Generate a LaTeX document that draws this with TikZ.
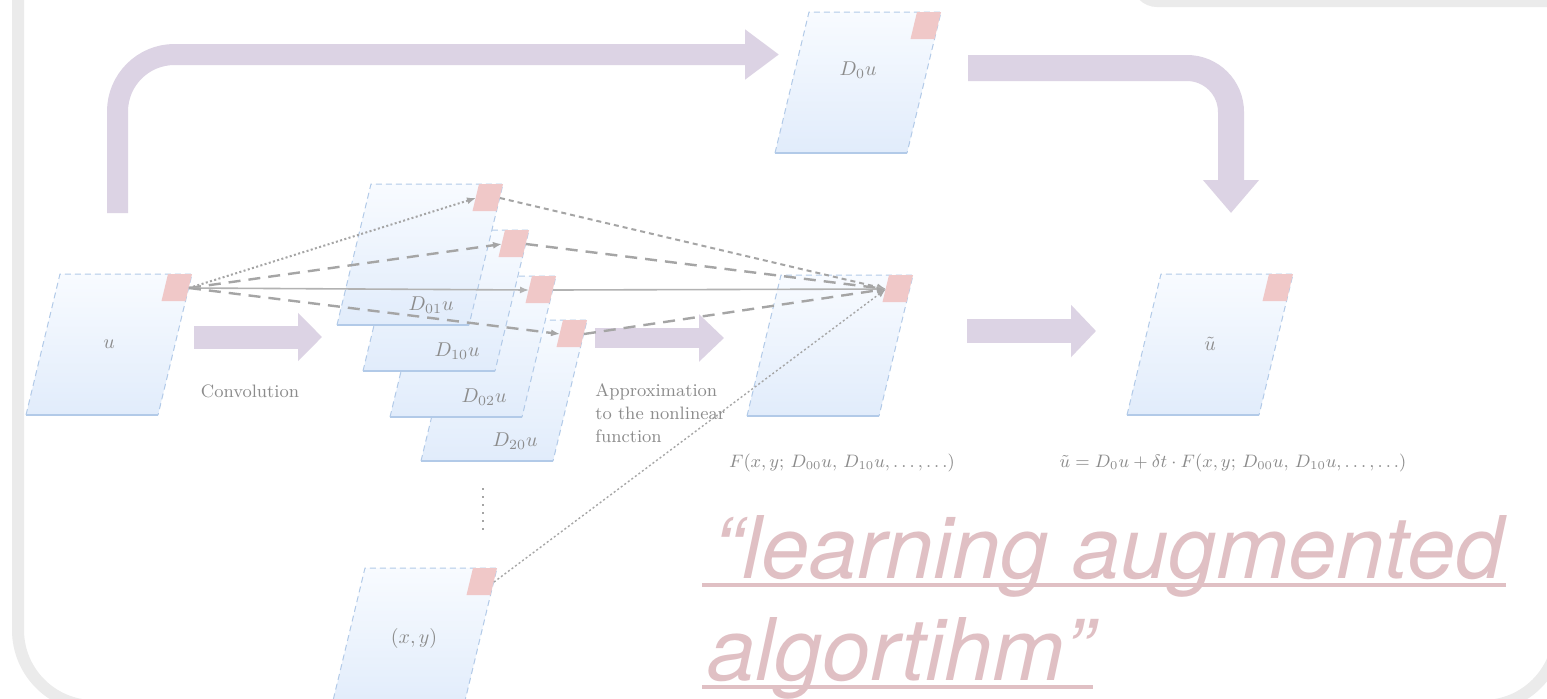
\documentclass[tikz,border=0pt]{standalone}
\usepackage{fontspec}
\usepackage{amsmath}
\newfontfamily\quotefont{TeX Gyre Heros}
\usetikzlibrary{arrows.meta,calc}

\definecolor{framegray}{RGB}{235,235,235}
\definecolor{lavender}{RGB}{220,211,228}
\definecolor{platetop}{RGB}{248,251,255}
\definecolor{platebot}{RGB}{225,236,251}
\definecolor{plateedge}{RGB}{178,202,232}
\definecolor{pinkbox}{RGB}{240,200,200}
\definecolor{softtext}{RGB}{140,140,140}
\definecolor{connline}{RGB}{165,165,165}
\definecolor{quotepink}{RGB}{224,192,196}

\tikzset{
  bigarrow/.style={draw=lavender, line width=#1},
  conn/.style={draw=connline, line width=1pt, -{Latex[length=4.5pt,width=3.5pt]}},
  dotconn/.style={conn, dash pattern=on 1pt off 1.2pt},
  shortdash/.style={conn, dash pattern=on 2.5pt off 2pt},
  longdash/.style={conn, line width=1.2pt, dash pattern=on 6pt off 4pt},
  solidconn/.style={conn, draw=connline!85, line width=0.8pt},
  lbl/.style={text=softtext, inner sep=0pt, font=\fontsize{10}{12}\selectfont},
  captext/.style={text=softtext, inner sep=0pt, font=\fontsize{9}{11.5}\selectfont},
  headline/.style={text=quotepink, inner sep=0pt, anchor=base west,
    font=\quotefont\itshape\fontsize{43.2}{50}\selectfont},
}

% slanted panel: #1 name, (#2,#3) top-right corner
\newcommand\panel[3]{%
  \begin{scope}[shift={(#2,#3)}]
    \shade[top color=platetop, bottom color=platebot]
      (-132,0) -- (0,0) -- (-34,141) -- (-166,141) -- cycle;
    \draw[plateedge, line width=0.5pt, dash pattern=on 3pt off 2pt]
      (-166,141) -- (-132,0) -- (0,0) -- (-34,141);
    \draw[plateedge, line width=1pt] (-34,141) -- (-166,141);
    \fill[pinkbox] (-24,0) -- (0,0) -- (-6.5,27) -- (-30.5,27) -- cycle;
    \coordinate (#1-in) at (-27,14);
    \coordinate (#1-out) at (-3,14);
    \coordinate (#1-c) at (-83,70);
    \coordinate (#1-t) at (-72,121);
  \end{scope}}

\begin{document}
\begin{tikzpicture}[x=0.5pt, y=-0.5pt]
  \useasboundingbox (0,0) rectangle (1547,698);
  \clip (0,0) rectangle (1547,698);
  \fill[white] (0,0) rectangle (1547,698);

  % outer frame and header tab
  \draw[framegray, line width=6pt, rounded corners=38pt] (18,-200) rectangle (1559,706);
  \fill[framegray, rounded corners=12.5pt] (1132,-60) rectangle (1620,7);

  % broad flow arrows
  \coordinate (skipA) at (117.5,213);
  \coordinate (skipC) at (779,54.5);
  \draw[bigarrow=10.5pt, rounded corners=28.5pt, -{Triangle[length=17pt,width=24pt]}]
    (skipA) |- (skipC);
  \coordinate (mergeA) at (968,68);
  \coordinate (mergeC) at (1231,213);
  \draw[bigarrow=13pt, rounded corners=22pt, -{Triangle[length=16.5pt,width=27pt]}]
    (mergeA) -| (mergeC);
  \coordinate (convA) at (194,337);
  \coordinate (convB) at (322,337);
  \draw[bigarrow=11.5pt, -{Triangle[length=12pt,width=23.5pt]}] (convA) -- (convB);
  \coordinate (apprA) at (595,338);
  \coordinate (apprB) at (724,338);
  \draw[bigarrow=10pt, -{Triangle[length=12.5pt,width=23pt]}] (apprA) -- (apprB);
  \coordinate (stepA) at (967,331);
  \coordinate (stepB) at (1096,331);
  \draw[bigarrow=12pt, -{Triangle[length=12.5pt,width=25.5pt]}] (stepA) -- (stepB);

  % panels
  \panel{u}{192}{274}
  \panel{dz}{941}{12}
  \panel{sd}{587}{320}
  \panel{sc}{556}{276}
  \panel{sb}{529}{230}
  \panel{sa}{503}{184}
  \panel{f}{913}{275}
  \panel{ut}{1293}{274}
  \panel{xy}{497}{568}

  % connectors
  \draw[dotconn] (u-out) -- (sa-in);
  \draw[longdash] (u-out) -- (sb-in);
  \draw[solidconn] (u-out) -- (sc-in);
  \draw[longdash] (u-out) -- (sd-in);
  \draw[shortdash] (sa-out) -- (f-in);
  \draw[longdash] (sb-out) -- (f-in);
  \draw[solidconn] (sc-out) -- (f-in);
  \draw[longdash] (sd-out) -- (f-in);
  \draw[dotconn, line width=0.7pt] (xy-out) -- (f-in);
  \coordinate (vdA) at (483,488);
  \coordinate (vdB) at (483,532);
  \draw[connline, line width=1pt, dash pattern=on 1pt off 3pt] (vdA) -- (vdB);

  % panel labels
  \node[lbl] (u-lbl) at (u-c) {$u$};
  \node[lbl] (dz-lbl) at ($(dz-c)+(0,-12)$) {$D_{0}u$};
  \node[lbl] (sa-lbl) at (sa-t) {$D_{01}u$};
  \node[lbl] (sb-lbl) at (sb-t) {$D_{10}u$};
  \node[lbl] (sc-lbl) at (sc-t) {$D_{02}u$};
  \node[lbl] (sd-lbl) at (sd-t) {$D_{20}u$};
  \node[lbl] (ut-lbl) at (ut-c) {$\tilde{u}$};
  \node[lbl] (xy-lbl) at (xy-c) {$(x,y)$};

  % captions
  \node[captext] (conv-lbl) at (250,391) {Convolution};
  \node[captext, align=left, anchor=north west] (appr-lbl) at (595,383)
    {Approximation\\to the nonlinear\\function};
  \node[captext] (f-lbl) at (842,463) {$F(x,y;\,D_{00}u,\,D_{10}u,\ldots,\ldots)$};
  \node[captext] (ut-eq) at (1233,463)
    {$\tilde{u}=D_{0}u+\delta t\cdot F(x,y;\,D_{00}u,\,D_{10}u,\ldots,\ldots)$};

  % headline
  \node[headline] (q1) at (713,578) {“learning augmented};
  \node[headline] (q2) at (707,680) {algortihm”};
  \coordinate (ulA) at (702,585);
  \coordinate (ulB) at (1506,585);
  \coordinate (ulC) at (702,687);
  \coordinate (ulD) at (1093,687);
  \draw[quotepink, line width=2pt] (ulA) -- (ulB);
  \draw[quotepink, line width=2pt] (ulC) -- (ulD);
\end{tikzpicture}
\end{document}
